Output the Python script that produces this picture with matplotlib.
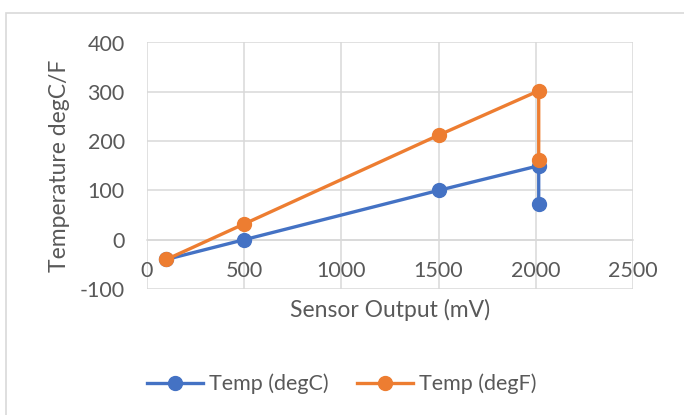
import matplotlib
matplotlib.use("Agg")
import matplotlib.pyplot as plt
from matplotlib.patches import Rectangle

# sensor output in mV, temperature in degC and degF
mv = [100, 500, 1500, 2015, 2015]
temp_c = [-40, 0, 100, 150, 72]
temp_f = [-40, 32, 212, 302, 162]

xticks = [0, 500, 1000, 1500, 2000, 2500]
yticks = [-100, 0, 100, 200, 300, 400]

blue = "#4472C4"
orange = "#ED7D31"
grid = "#D9D9D9"
txt = "#595959"

plt.rcParams['font.family'] = ['Lato', 'DejaVu Sans']
plt.rcParams['axes.unicode_minus'] = False

fig = plt.figure(figsize=(6.84, 4.15), dpi=100)
ax = fig.add_axes([147/684, 1-289/415, (633-147)/684, (289-42.5)/415])

# chart area border (top and left visible)
fig.patches.append(Rectangle((6/684, -0.1), 1.2, 1-13/415+0.1, transform=fig.transFigure,
                             fill=False, edgecolor=grid, lw=1.2))

ax.plot(mv, temp_c, color=blue, lw=2.4, marker='o', ms=10, label='Temp (degC)', zorder=3)
ax.plot(mv, temp_f, color=orange, lw=2.4, marker='o', ms=10, label='Temp (degF)', zorder=3)

ax.set_xlim(0, 2500)
ax.set_ylim(-100, 400)
ax.set_xticks(xticks)
ax.set_yticks(yticks)
ax.grid(True, color=grid, lw=1.1)
ax.set_axisbelow(True)
for s in ['top', 'right', 'left']:
    ax.spines[s].set_visible(False)
ax.spines['bottom'].set_position(('data', 0))
ax.spines['bottom'].set_color(grid)
ax.spines['bottom'].set_linewidth(1.1)
ax.tick_params(length=0, labelsize=15.5, labelcolor=txt)
ax.tick_params(axis='x', pad=15)
ax.tick_params(axis='y', pad=16)

ax.set_xlabel('Sensor Output (mV)', fontsize=16.5, color=txt)
ax.xaxis.set_label_coords(0.5, -0.04)
ax.set_ylabel('Temperature degC/F', fontsize=16.5, color=txt)
ax.yaxis.set_label_coords(-0.158, 0.5)

fig.legend(loc='center', bbox_to_anchor=(0.5, 1-384/415), ncol=2, frameon=False,
           fontsize=15.5, labelcolor=txt, handlelength=2.6, handletextpad=0.3,
           columnspacing=1.3)

fig.savefig('out.png', dpi=100)
